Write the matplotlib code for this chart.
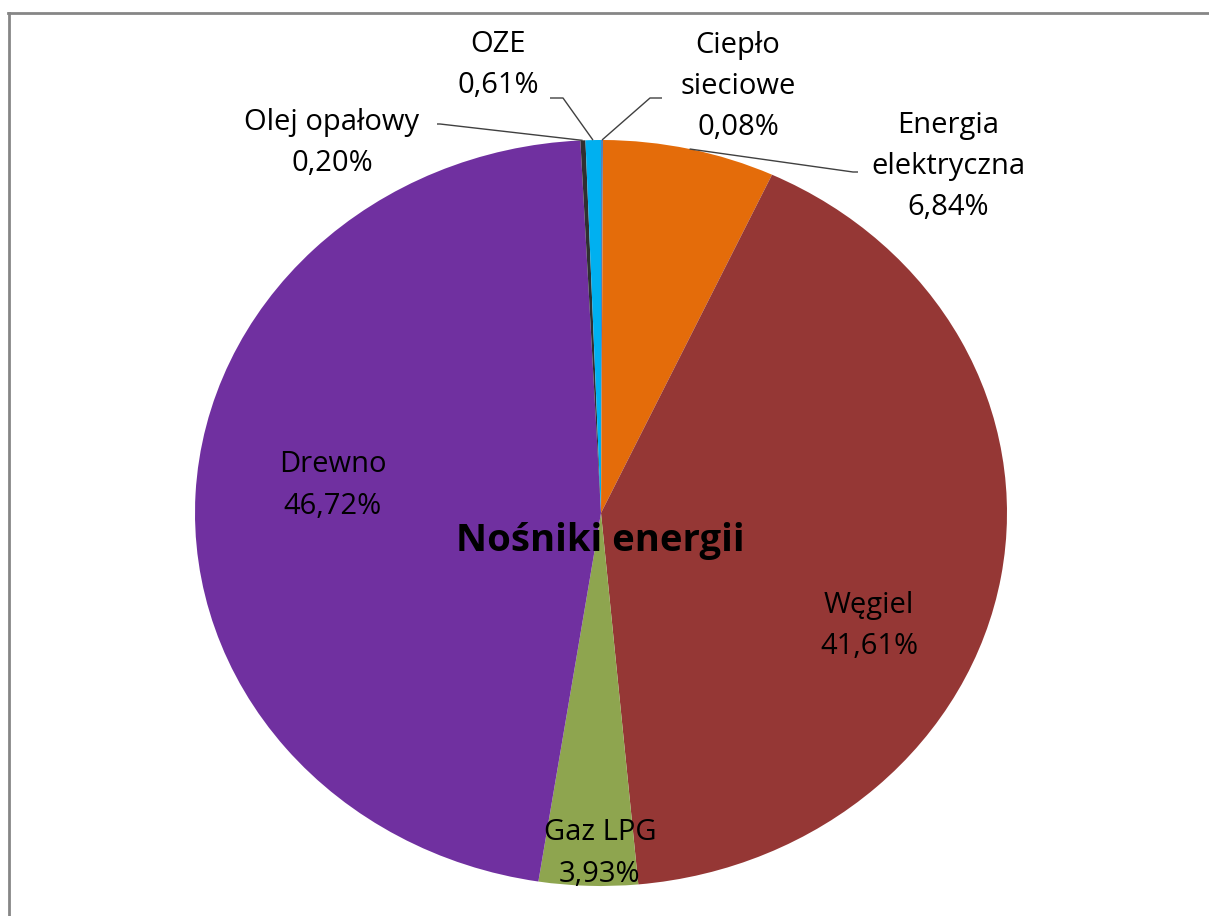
import matplotlib
matplotlib.use("Agg")
import matplotlib.pyplot as plt
from matplotlib.lines import Line2D
import numpy as np

# ---- data ----
categories = ["Ciepło sieciowe", "Energia elektryczna", "Węgiel", "Gaz LPG",
              "Drewno", "Olej opałowy", "OZE"]
label_text = ["Ciepło\nsieciowe", "Energia\nelektryczna", "Węgiel", "Gaz LPG",
              "Drewno", "Olej opałowy", "OZE"]
values = [0.08, 6.84, 41.61, 3.93, 46.72, 0.20, 0.61]
colors = ["#4F81BD", "#E46C0A", "#953735", "#8EA54F", "#7030A0", "#303030", "#00B0F0"]
title = "Nośniki energii"

W, H = 1209, 916
fig = plt.figure(figsize=(W / 100, H / 100), dpi=100)
ax = fig.add_axes([0, 0, 1, 1])

# pie geometry in pixels (stretched ellipse as in the reference)
cx, cy, rx, ry = 601, 513, 406, 373
def px2x(px):
    return (px - cx) / rx
def py2y(py):
    return (cy - py) / ry

ax.pie(values, colors=colors, startangle=90, counterclock=False,
       wedgeprops=dict(linewidth=0))
ax.set_aspect('auto')
ax.set_xlim(px2x(0), px2x(W))
ax.set_ylim(py2y(H), py2y(0))
ax.axis('off')

font = "Open Sans"
fs = 21
line_step = 41  # px between label lines

def fmt(v):
    return f"{v:.2f}".replace(".", ",") + "%"

# label block centers (pixels) and leader anchor points (pixels) or None
layout = {
    "Ciepło sieciowe": ((738, 83), [(662, 98), (650, 98)]),
    "Energia elektryczna": ((948, 163), [(858, 172), (853, 172)]),
    "Węgiel": ((869, 622), None),
    "Gaz LPG": ((600, 850), None),
    "Drewno": ((333, 482), None),
    "Olej opałowy": ((332, 140), [(437, 124), (440, 124)]),
    "OZE": ((498, 62), [(550, 98), (563, 98)]),
}

cum = 0.0
for cat, lab, v in zip(categories, label_text, values):
    mid = cum + v / 2
    cum += v
    theta = np.deg2rad(90 - 360 * mid / 100)
    (tx, ty), leader = layout[cat]
    lines = lab.split("\n") + [fmt(v)]
    n = len(lines)
    for i, s in enumerate(lines):
        yy = ty + (i - (n - 1) / 2) * line_step
        ax.text(px2x(tx), py2y(yy), s, ha='center', va='center_baseline',
                fontsize=fs, family=font, color='black')
    if leader is not None:
        xs = [px2x(p[0]) for p in leader] + [np.cos(theta)]
        ys = [py2y(p[1]) for p in leader] + [np.sin(theta)]
        ax.plot(xs, ys, color='#404040', lw=1.0, solid_capstyle='butt')

ax.text(px2x(600), py2y(536), title, ha='center', va='center_baseline',
        fontsize=27.5, fontweight='bold', family=font, color='black')

# chart frame (top and left edges visible)
fig.add_artist(Line2D([8 / W, 1.0], [1 - 13 / H, 1 - 13 / H], color='#868686', lw=2))
fig.add_artist(Line2D([9 / W, 9 / W], [0.0, 1 - 13 / H], color='#868686', lw=2))

fig.savefig("out.png", dpi=100, facecolor='white')
